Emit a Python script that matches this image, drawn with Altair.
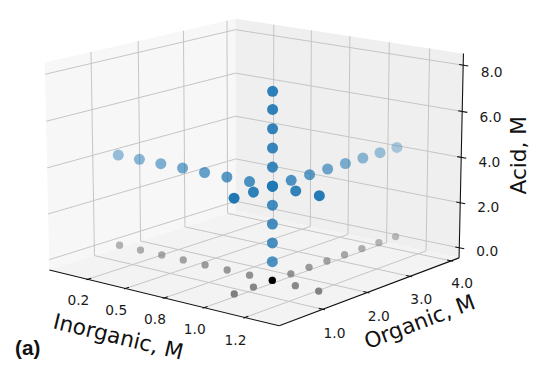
import numpy as np
import pandas as pd
import altair as alt

# ---------------- data ----------------
inorganic_line = [0.086, 0.228, 0.370, 0.512, 0.654, 0.796, 0.938, 1.080, 1.222, 1.364]
organic_line = [0.42, 0.83, 1.24, 1.65, 2.06, 2.47, 2.88, 3.29, 3.70, 4.11]
acid_line = [0.8, 1.6, 2.4, 3.2, 4.0, 4.8, 5.6, 6.4, 7.2, 7.95]
center_inorganic = 1.080
center_organic = 1.24
center_acid = 4.0

inorganic_ticks = [0.25, 0.50, 0.75, 1.00, 1.25]
inorganic_tick_labels = ["0.2", "0.5", "0.8", "1.0", "1.2"]
organic_ticks = [1.0, 2.0, 3.0, 4.0]
organic_tick_labels = ["1.0", "2.0", "3.0", "4.0"]
acid_ticks = [0.0, 2.0, 4.0, 6.0, 8.0]
acid_tick_labels = ["0.0", "2.0", "4.0", "6.0", "8.0"]

inorganic_box = [-0.01, 1.455]
organic_box = [0.06, 4.20]
acid_box = [-0.45, 8.50]

axis_titles = ["Inorganic, M", "Organic, M", "Acid, M"]
panel_label = "(a)"

# ---------------- 3-D view (matplotlib-like perspective) ----------------
ELEV, AZIM, DIST = 14.5, -51.0, 10.0
KY = 0.963  # vertical / horizontal scale of the 2-D view
XB, YB, ZB = inorganic_box, organic_box, acid_box
ASPECT = np.array([4.0, 4.0, 3.0])
ASPECT = ASPECT * 1.8294640721620434 / np.linalg.norm(ASPECT)
RC = ASPECT / 2
_e, _a = np.deg2rad(ELEV), np.deg2rad(AZIM)
WV = np.array([np.cos(_e) * np.cos(_a), np.cos(_e) * np.sin(_a), np.sin(_e)])
EYE = RC + DIST * WV
UV = np.cross([0.0, 0.0, 1.0], WV)
UV /= np.linalg.norm(UV)
VV = np.cross(WV, UV)


def proj(x, y, z):
    x, y, z = np.broadcast_arrays(np.atleast_1d(np.asarray(x, float)),
                                  np.atleast_1d(np.asarray(y, float)),
                                  np.atleast_1d(np.asarray(z, float)))
    P = np.stack([(x - XB[0]) / (XB[1] - XB[0]) * ASPECT[0],
                  (y - YB[0]) / (YB[1] - YB[0]) * ASPECT[1],
                  (z - ZB[0]) / (ZB[1] - ZB[0]) * ASPECT[2]], axis=-1)
    d = P - EYE
    dist = -(d @ WV)
    return (d @ UV) / dist, (d @ VV) / dist, dist


# ---------------- framing of the chart ----------------
W, H = 529, 353
L_PX = (42.0, 260.0)   # where the left floor corner of the box sits
R_PX = (458.0, 251.0)  # where the right floor corner of the box sits
sxL, syL, _ = proj(XB[0], YB[0], ZB[0])
sxR, syR, _ = proj(XB[1], YB[1], ZB[0])
S = (R_PX[0] - L_PX[0]) / (sxR[0] - sxL[0])
SY = S * KY
x0 = sxL[0] - L_PX[0] / S
y0 = syR[0] - (H - R_PX[1]) / SY
XS = alt.Scale(domain=[x0, x0 + W / S], nice=False, zero=False)
YS = alt.Scale(domain=[y0, y0 + H / SY], nice=False, zero=False)


def X(f):
    return alt.X(f, type="quantitative", scale=XS, axis=None)


def Y(f):
    return alt.Y(f, type="quantitative", scale=YS, axis=None, stack=None)


# ---------------- panes ----------------
def poly_area(corners, name, color):
    px, py, _ = proj(*np.array(corners).T)
    xs = np.unique(np.round(px, 12))
    rows = []
    n = len(px)
    for xq in xs:
        ys = []
        for i in range(n):
            x1, y1, x2, y2 = px[i], py[i], px[(i + 1) % n], py[(i + 1) % n]
            lo, hi = min(x1, x2), max(x1, x2)
            if hi - lo < 1e-12:
                if abs(xq - x1) < 1e-9:
                    ys += [y1, y2]
            elif lo - 1e-12 <= xq <= hi + 1e-12:
                t = (xq - x1) / (x2 - x1)
                ys.append(y1 + t * (y2 - y1))
        rows.append({"x": xq, "lo": min(ys), "hi": max(ys), "pane": name, "c": color})
    return rows


x_lo, x_hi = XB
y_lo, y_hi = YB
z_lo, z_hi = ZB
pane_rows = []
pane_rows += poly_area([(x_lo, y_lo, z_lo), (x_lo, y_hi, z_lo), (x_lo, y_hi, z_hi), (x_lo, y_lo, z_hi)], "left", "#f7f7f7")
pane_rows += poly_area([(x_lo, y_hi, z_lo), (x_hi, y_hi, z_lo), (x_hi, y_hi, z_hi), (x_lo, y_hi, z_hi)], "back", "#efefef")
pane_rows += poly_area([(x_lo, y_lo, z_lo), (x_hi, y_lo, z_lo), (x_hi, y_hi, z_lo), (x_lo, y_hi, z_lo)], "floor", "#f3f3f3")
panes_df = pd.DataFrame(pane_rows)

panes = []
for nm in ["left", "back", "floor"]:
    sub = panes_df[panes_df.pane == nm]
    panes.append(alt.Chart(sub).mark_area(color=sub.c.iloc[0], opacity=1).encode(
        x=X("x"), y=Y("lo"), y2="hi"))


# ---------------- gridlines, axis lines, ticks ----------------
def seg_rows(segs):
    rows = []
    for (a, b) in segs:
        p1 = proj(*a)
        p2 = proj(*b)
        rows.append({"x": p1[0][0], "y": p1[1][0], "x2": p2[0][0], "y2": p2[1][0]})
    return pd.DataFrame(rows)


grid = []
for xt in inorganic_ticks:
    grid.append(((xt, y_lo, z_lo), (xt, y_hi, z_lo)))
    grid.append(((xt, y_hi, z_lo), (xt, y_hi, z_hi)))
for yt in organic_ticks:
    grid.append(((x_lo, yt, z_lo), (x_hi, yt, z_lo)))
    grid.append(((x_lo, yt, z_lo), (x_lo, yt, z_hi)))
for zt in acid_ticks:
    grid.append(((x_lo, y_lo, zt), (x_lo, y_hi, zt)))
    grid.append(((x_lo, y_hi, zt), (x_hi, y_hi, zt)))
grid_df = seg_rows(grid)
grid_layer = alt.Chart(grid_df).mark_rule(color="#c4c4c4", strokeWidth=1).encode(
    x=X("x"), y=Y("y"), x2="x2", y2="y2")

axes_segs = [((x_lo, y_lo, z_lo), (x_hi, y_lo, z_lo)),
             ((x_hi, y_lo, z_lo), (x_hi, y_hi, z_lo)),
             ((x_hi, y_hi, z_lo), (x_hi, y_hi, z_hi))]
dy_t = (y_hi - y_lo) / 12
dx_t = (x_hi - x_lo) / 12
for xt in inorganic_ticks:
    axes_segs.append(((xt, y_lo - 0.1 * dy_t, z_lo), (xt, y_lo + 0.2 * dy_t, z_lo)))
for yt in organic_ticks:
    axes_segs.append(((x_hi - 0.2 * dx_t, yt, z_lo), (x_hi + 0.1 * dx_t, yt, z_lo)))
for zt in acid_ticks:
    axes_segs.append(((x_hi - 0.2 * dx_t, y_hi, zt), (x_hi + 0.25 * dx_t, y_hi, zt)))
axes_df = seg_rows(axes_segs)
axes_layer = alt.Chart(axes_df).mark_rule(color="#111111", strokeWidth=1.1).encode(
    x=X("x"), y=Y("y"), x2="x2", y2="y2")


# ---------------- points ----------------
def point_rows(xyz, group, color, k):
    xyz = np.array(xyz, float)
    px, py, dist = proj(xyz[:, 0], xyz[:, 1], xyz[:, 2])
    dn = (dist - dist.min()) / max(dist.max() - dist.min(), 1e-12)
    alpha = 1 - k * dn
    return pd.DataFrame({"x": px, "y": py, "dist": dist, "a": alpha, "c": color, "g": group})


blue_xyz = ([(v, center_organic, center_acid) for v in inorganic_line]
            + [(center_inorganic, v, center_acid) for v in organic_line]
            + [(center_inorganic, center_organic, v) for v in acid_line])
gray_xyz = ([(v, center_organic, 0.0) for v in inorganic_line]
            + [(center_inorganic, v, 0.0) for v in organic_line])
black_xyz = [(center_inorganic, center_organic, 0.0)]

gray_df = point_rows(gray_xyz, "gray", "#7f7f7f", 0.5).sort_values("dist", ascending=False)
black_df = point_rows(black_xyz, "black", "#000000", 0.0)
blue_df = point_rows(blue_xyz, "blue", "#1f77b4", 0.65).sort_values("dist", ascending=False)
gray_df["o"] = np.arange(len(gray_df))
blue_df["o"] = np.arange(len(blue_df))

gray_layer = alt.Chart(gray_df).mark_circle(size=55).encode(
    x=X("x"), y=Y("y"), color=alt.Color("c:N", scale=None),
    opacity=alt.Opacity("a:Q", scale=None), order=alt.Order("o:Q"))
black_layer = alt.Chart(black_df).mark_circle(size=52, opacity=1).encode(
    x=X("x"), y=Y("y"), color=alt.Color("c:N", scale=None))
blue_layer = alt.Chart(blue_df).mark_circle(size=125).encode(
    x=X("x"), y=Y("y"), color=alt.Color("c:N", scale=None),
    opacity=alt.Opacity("a:Q", scale=None), order=alt.Order("o:Q"))


# ---------------- texts ----------------
def text_rows(items):
    rows = []
    for (pt, t) in items:
        p = proj(*pt)
        rows.append({"x": p[0][0], "y": p[1][0], "t": t})
    return pd.DataFrame(rows)


tick_items = []
for v, t in zip(inorganic_ticks, inorganic_tick_labels):
    tick_items.append(((v, y_lo - 0.20, z_lo - 0.82), t))
for v, t in zip(organic_ticks, organic_tick_labels):
    tick_items.append(((x_hi + 0.07, v, z_lo - 0.92), t))
for v, t in zip(acid_ticks, acid_tick_labels):
    tick_items.append(((x_hi + 0.17, y_hi, v + 0.07 - 0.0275 * v), t))
tick_df = text_rows(tick_items)
tick_layer = alt.Chart(tick_df).mark_text(
    font="DejaVu Sans", fontSize=14, color="#1a1a1a", align="center", baseline="middle").encode(
    x=X("x"), y=Y("y"), text="t:N")


def screen_angle(a, b):
    p1, p2 = proj(*a), proj(*b)
    dx = (p2[0][0] - p1[0][0]) * S
    dy = -(p2[1][0] - p1[1][0]) * SY
    ang = np.degrees(np.arctan2(dy, dx))
    return float(ang % 360)


ang_x = screen_angle((x_lo, y_lo, z_lo), (x_hi, y_lo, z_lo))
ang_y = screen_angle((x_hi, y_lo, z_lo), (x_hi, y_hi, z_lo))
x_mid = (x_lo + x_hi) / 2
y_mid = (y_lo + y_hi) / 2
z_mid = (z_lo + z_hi) / 2

title_specs = [
    ((x_mid, y_lo - 0.86, z_lo - 1.08), axis_titles[0], ang_x),
    ((x_hi + 0.28, y_mid, z_lo - 0.90), axis_titles[1], ang_y),
    ((x_hi + 0.235, y_hi + 0.48, z_mid + 0.1), axis_titles[2], 270.0),
]
title_layers = []
for pt, t, ang in title_specs:
    df = text_rows([(pt, t)])
    title_layers.append(alt.Chart(df).mark_text(
        font="DejaVu Sans", fontSize=22, color="#111111", align="center",
        baseline="middle", angle=ang).encode(x=X("x"), y=Y("y"), text="t:N"))

label_layer = alt.Chart(pd.DataFrame({"t": [panel_label]})).mark_text(
    font="Liberation Sans", fontSize=21, fontWeight="bold", color="#111111",
    align="center", baseline="middle").encode(
    x=alt.value(20), y=alt.value(344), text="t:N")

chart = alt.layer(
    *panes, grid_layer, axes_layer, gray_layer, black_layer, blue_layer,
    tick_layer, *title_layers, label_layer
).properties(
    width=W, height=H, padding=0, autosize=alt.AutoSizeParams(type="none")
).configure_view(stroke=None)

chart.save("out.html", embed_options={"renderer": "svg", "actions": False})
